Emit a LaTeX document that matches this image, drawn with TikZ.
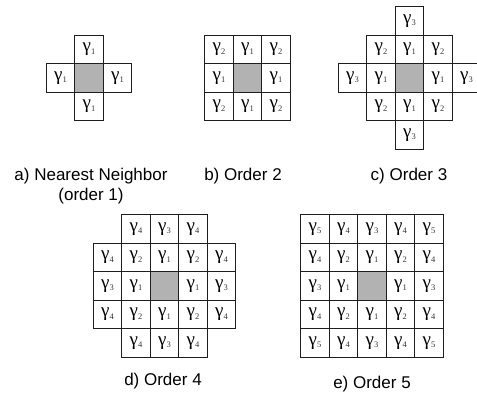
\documentclass[tikz,border=0pt]{standalone}
\usepackage{fontspec}
\setmainfont{Liberation Sans}
\newfontfamily\gkfont{Liberation Serif}
\definecolor{cellgray}{RGB}{178,178,178}
\definecolor{lineclr}{RGB}{30,30,30}
\newcommand\gmm[1]{{\gkfont\fontsize{19}{19}\selectfont γ}\kern0.2pt\raisebox{-2.5pt}{\gkfont\fontsize{8.5}{8.5}\selectfont\color{black!80}#1}}
\newcommand\cellat[4]{\node[cellbox] (#1) at (#2,#3) {\gmm{#4}};}
\newcommand\midcell[3]{\node[cellbox,fill=cellgray] (#1) at (#2,#3) {};}
\tikzset{
  cellbox/.style={draw=lineclr, line width=0.9pt, minimum size=28.5pt, inner sep=0pt, anchor=center},
  caption/.style={font=\fontsize{17}{20}\selectfont, anchor=base, inner sep=0pt}
}
\begin{document}
\begin{tikzpicture}[x=1pt,y=-1pt]
\useasboundingbox (0,0) rectangle (477,392);
\clip (0,0) rectangle (477,392);
% grid a
\midcell{a0}{89}{78}
\cellat{a1}{89}{49.5}{1}
\cellat{a2}{60.5}{78}{1}
\cellat{a3}{117.5}{78}{1}
\cellat{a4}{89}{106.5}{1}
% grid b
\cellat{b11}{219}{49.5}{2}
\cellat{b12}{247.5}{49.5}{1}
\cellat{b13}{276}{49.5}{2}
\cellat{b21}{219}{78}{1}
\midcell{b22}{247.5}{78}
\cellat{b23}{276}{78}{1}
\cellat{b31}{219}{106.5}{2}
\cellat{b32}{247.5}{106.5}{1}
\cellat{b33}{276}{106.5}{2}
% grid c
\cellat{c03}{409.5}{21}{3}
\cellat{c12}{381}{49.5}{2}
\cellat{c13}{409.5}{49.5}{1}
\cellat{c14}{438}{49.5}{2}
\cellat{c21}{352.5}{78}{3}
\cellat{c22}{381}{78}{1}
\midcell{c23}{409.5}{78}
\cellat{c24}{438}{78}{1}
\cellat{c25}{466.5}{78}{3}
\cellat{c32}{381}{106.5}{2}
\cellat{c33}{409.5}{106.5}{1}
\cellat{c34}{438}{106.5}{2}
\cellat{c43}{409.5}{135}{3}
% grid d
\cellat{d12}{136}{229}{4}
\cellat{d13}{164.5}{229}{3}
\cellat{d14}{193}{229}{4}
\cellat{d21}{107.5}{257.5}{4}
\cellat{d22}{136}{257.5}{2}
\cellat{d23}{164.5}{257.5}{1}
\cellat{d24}{193}{257.5}{2}
\cellat{d25}{221.5}{257.5}{4}
\cellat{d31}{107.5}{286}{3}
\cellat{d32}{136}{286}{1}
\midcell{d33}{164.5}{286}
\cellat{d34}{193}{286}{1}
\cellat{d35}{221.5}{286}{3}
\cellat{d41}{107.5}{314.5}{4}
\cellat{d42}{136}{314.5}{2}
\cellat{d43}{164.5}{314.5}{1}
\cellat{d44}{193}{314.5}{2}
\cellat{d45}{221.5}{314.5}{4}
\cellat{d52}{136}{343}{4}
\cellat{d53}{164.5}{343}{3}
\cellat{d54}{193}{343}{4}
% grid e
\cellat{e11}{315}{229}{5}
\cellat{e12}{343.5}{229}{4}
\cellat{e13}{372}{229}{3}
\cellat{e14}{400.5}{229}{4}
\cellat{e15}{429}{229}{5}
\cellat{e21}{315}{257.5}{4}
\cellat{e22}{343.5}{257.5}{2}
\cellat{e23}{372}{257.5}{1}
\cellat{e24}{400.5}{257.5}{2}
\cellat{e25}{429}{257.5}{4}
\cellat{e31}{315}{286}{3}
\cellat{e32}{343.5}{286}{1}
\midcell{e33}{372}{286}
\cellat{e34}{400.5}{286}{1}
\cellat{e35}{429}{286}{3}
\cellat{e41}{315}{314.5}{4}
\cellat{e42}{343.5}{314.5}{2}
\cellat{e43}{372}{314.5}{1}
\cellat{e44}{400.5}{314.5}{2}
\cellat{e45}{429}{314.5}{4}
\cellat{e51}{315}{343}{5}
\cellat{e52}{343.5}{343}{4}
\cellat{e53}{372}{343}{3}
\cellat{e54}{400.5}{343}{4}
\cellat{e55}{429}{343}{5}
% captions
\node[caption] (capa1) at (91,180) {a) Nearest Neighbor};
\node[caption] (capa2) at (91,200) {(order 1)};
\node[caption] (capb) at (243,180) {b) Order 2};
\node[caption] (capc) at (409,180) {c) Order 3};
\node[caption] (capd) at (163,385) {d) Order 4};
\node[caption] (cape) at (372,388.5) {e) Order 5};
\end{tikzpicture}
\end{document}
